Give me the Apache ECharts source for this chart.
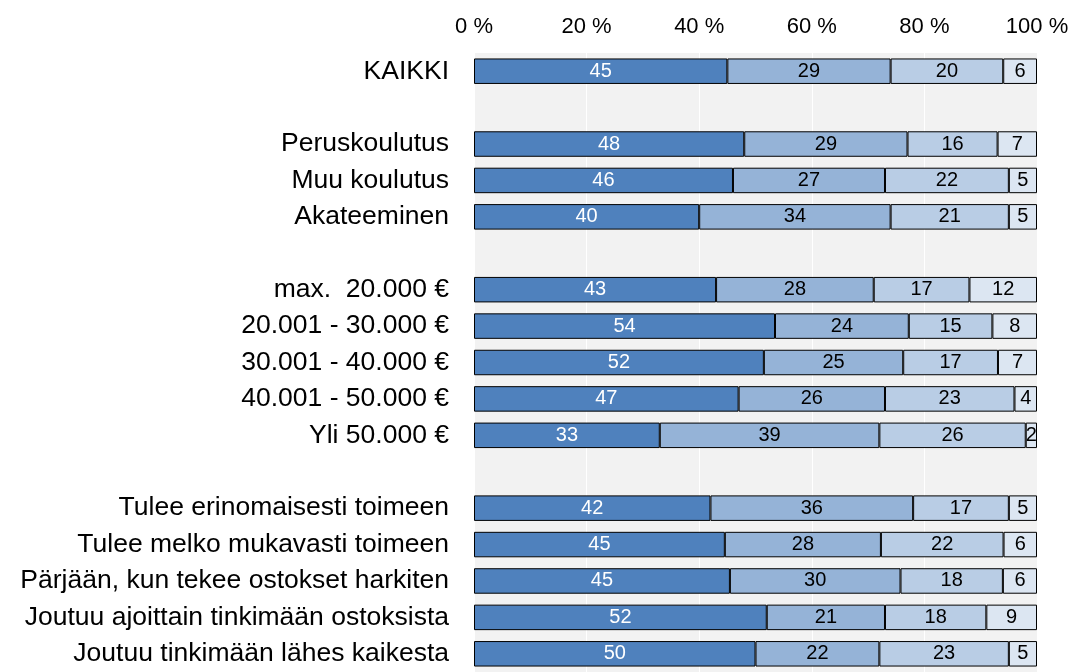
<!DOCTYPE html>
<html lang="fi">
<head>
<meta charset="UTF-8">
<title>Pinottu palkkikaavio</title>
<script src="https://cdn.jsdelivr.net/npm/echarts@6/dist/echarts.min.js"></script>
<style>
    body { margin: 0; background: #fff; }
    #chart { width: 1074px; height: 672px; }
</style>
</head>
<body>
<div id="chart"></div>
<script>
    // rivit, tyhjät merkkijonot ovat välirivejä
    const categories = [
        'KAIKKI', '',
        'Peruskoulutus', 'Muu koulutus', 'Akateeminen', '',
        'max.  20.000 €', '20.001 - 30.000 €', '30.001 - 40.000 €', '40.001 - 50.000 €', 'Yli 50.000 €', '',
        'Tulee erinomaisesti toimeen', 'Tulee melko mukavasti toimeen', 'Pärjään, kun tekee ostokset harkiten',
        'Joutuu ajoittain tinkimään ostoksista', 'Joutuu tinkimään lähes kaikesta'
    ];
    const s1 = [45, null, 48, 46, 40, null, 43, 54, 52, 47, 33, null, 42, 45, 45, 52, 50];
    const s2 = [29, null, 29, 27, 34, null, 28, 24, 25, 26, 39, null, 36, 28, 30, 21, 22];
    const s3 = [20, null, 16, 22, 21, null, 17, 15, 17, 23, 26, null, 17, 22, 18, 18, 23];
    const s4 = [6, null, 7, 5, 5, null, 12, 8, 7, 4, 2, null, 5, 6, 6, 9, 5];
    const colors = ['#4F81BD', '#95B3D7', '#B9CDE5', '#DCE6F2'];

    const font = 'Liberation Sans, Arial, sans-serif';
    const all = [s1, s2, s3, s4];
    // 100 % pinottu: jokainen rivi skaalataan summaansa
    const rowSum = categories.map((c, j) => all.reduce((a, s) => a + (s[j] || 0), 0));

    const chart = echarts.init(document.getElementById('chart'));

    function makeSeries(data, i) {
        return {
            type: 'bar',
            stack: 'all',
            data: data.map((v, j) => v == null ? null : v / rowSum[j] * 100),
            barCategoryGap: '30%',
            itemStyle: { color: colors[i], borderColor: '#000', borderWidth: 1 },
            label: {
                show: true,
                position: 'inside',
                color: i === 0 ? '#fff' : '#000',
                fontFamily: font,
                fontSize: 20,
                formatter: p => data[p.dataIndex]
            },
            silent: true
        };
    }

    chart.setOption({
        animation: false,
        grid: {
            left: 474, right: 37, top: 53, bottom: -8,
            show: true, backgroundColor: '#F2F2F2', borderWidth: 0
        },
        xAxis: {
            type: 'value',
            position: 'top',
            min: 0, max: 100, interval: 20,
            axisLine: { show: false },
            axisTick: { show: false },
            splitLine: { show: true, lineStyle: { color: '#fff', width: 1 } },
            axisLabel: {
                formatter: '{value} %',
                color: '#000',
                fontFamily: font,
                fontSize: 22,
                margin: 15
            }
        },
        yAxis: {
            type: 'category',
            inverse: true,
            data: categories,
            axisLine: { show: false },
            axisTick: { show: false },
            axisLabel: {
                color: '#000',
                fontFamily: font,
                fontSize: 26.5,
                margin: 25
            }
        },
        series: all.map(makeSeries)
    });
</script>
</body>
</html>
